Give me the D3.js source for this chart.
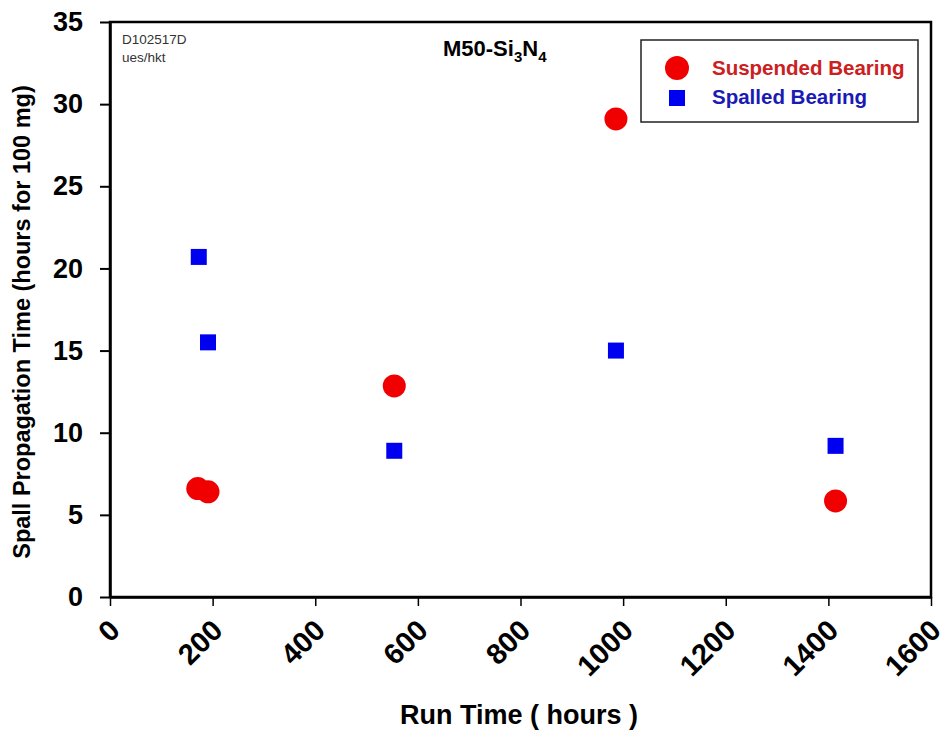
<!DOCTYPE html>
<html>
<head>
<meta charset="utf-8">
<script src="https://cdn.jsdelivr.net/npm/d3@7"></script>
<style>
  body { margin: 0; background: #fff; }
  text { font-family: "Liberation Sans", Arial, sans-serif; }
</style>
</head>
<body>
<div id="chart"></div>
<script>
// run time (hours) and spall propagation time (hours for 100 mg)
const suspendedX = [171, 191, 554, 986, 1414];
const suspendedY = [6.6, 6.4, 12.85, 29.1, 5.85];
const spalledX = [173, 191, 554, 986, 1414];
const spalledY = [20.7, 15.5, 8.9, 15.0, 9.2];
const xTicks = [0, 200, 400, 600, 800, 1000, 1200, 1400, 1600];
const yTicks = [0, 5, 10, 15, 20, 25, 30, 35];

const width = 943, height = 732;
const margin = { top: 22, right: 12, bottom: 135, left: 110 };

const svg = d3.select("#chart").append("svg")
  .attr("width", width)
  .attr("height", height);

const x = d3.scaleLinear().domain([0, 1600]).range([margin.left, width - margin.right]);
const y = d3.scaleLinear().domain([0, 35]).range([height - margin.bottom, margin.top]);

// frame
svg.append("rect")
  .attr("x", x(0)).attr("y", y(35))
  .attr("width", x(1600) - x(0)).attr("height", y(0) - y(35))
  .attr("fill", "none").attr("stroke", "#000").attr("stroke-width", 2.5);

const xAxis = svg.append("g")
  .attr("transform", `translate(0,${y(0)})`)
  .call(d3.axisBottom(x).tickValues(xTicks).tickSize(9).tickSizeOuter(0).tickFormat(d3.format("d")));
xAxis.select(".domain").attr("stroke-width", 2.5);
xAxis.selectAll(".tick line").attr("stroke-width", 1.5);
xAxis.selectAll(".tick text")
  .attr("font-size", 29).attr("font-weight", "bold").attr("fill", "#000")
  .attr("text-anchor", "end")
  .attr("x", 0).attr("y", 0).attr("dy", "0.35em")
  .attr("transform", "translate(4,28) rotate(-45)");

const yAxis = svg.append("g")
  .attr("transform", `translate(${x(0)},0)`)
  .call(d3.axisLeft(y).tickValues(yTicks).tickSize(10).tickSizeOuter(0).tickPadding(17));
yAxis.select(".domain").attr("stroke-width", 2.5);
yAxis.selectAll(".tick line").attr("stroke-width", 2);
yAxis.selectAll(".tick text")
  .attr("font-size", 27).attr("font-weight", "bold").attr("fill", "#000");

// axis titles
svg.append("text")
  .attr("x", 519).attr("y", 724)
  .attr("text-anchor", "middle")
  .attr("font-size", 27).attr("font-weight", "bold")
  .text("Run Time ( hours )");

svg.append("text")
  .attr("transform", "translate(30,322) rotate(-90)")
  .attr("text-anchor", "middle")
  .attr("font-size", 23.5).attr("font-weight", "bold")
  .text("Spall Propagation Time (hours for 100 mg)");

// annotations
svg.append("text").attr("x", 122).attr("y", 44)
  .attr("font-size", 13.5).attr("fill", "#333").text("D102517D");
svg.append("text").attr("x", 122).attr("y", 62)
  .attr("font-size", 13.5).attr("fill", "#333").text("ues/hkt");

const title = svg.append("text").attr("x", 443).attr("y", 56)
  .attr("font-size", 22).attr("font-weight", "bold");
title.append("tspan").text("M50-Si");
title.append("tspan").attr("font-size", 15).attr("dy", 6).text("3");
title.append("tspan").attr("dy", -6).text("N");
title.append("tspan").attr("font-size", 15).attr("dy", 6).text("4");

// points
svg.append("g").selectAll("circle")
  .data(suspendedX.map((d, i) => [d, suspendedY[i]]))
  .join("circle")
  .attr("cx", d => x(d[0])).attr("cy", d => y(d[1]))
  .attr("r", 11.5).attr("fill", "#f00000");

const sq = 16;
svg.append("g").selectAll("rect")
  .data(spalledX.map((d, i) => [d, spalledY[i]]))
  .join("rect")
  .attr("x", d => x(d[0]) - sq / 2).attr("y", d => y(d[1]) - sq / 2)
  .attr("width", sq).attr("height", sq).attr("fill", "#0000f0");

// legend
const lg = svg.append("g");
lg.append("rect").attr("x", 641).attr("y", 40).attr("width", 277).attr("height", 82)
  .attr("fill", "#fff").attr("stroke", "#222").attr("stroke-width", 1.5);
lg.append("circle").attr("cx", 677).attr("cy", 68).attr("r", 12).attr("fill", "#f00000");
lg.append("rect").attr("x", 677 - 8).attr("y", 98 - 8).attr("width", 16).attr("height", 16).attr("fill", "#0000f0");
lg.append("text").attr("x", 712).attr("y", 75)
  .attr("font-size", 20.5).attr("font-weight", "bold").attr("fill", "#cc2020")
  .text("Suspended Bearing");
lg.append("text").attr("x", 712).attr("y", 104)
  .attr("font-size", 20.5).attr("font-weight", "bold").attr("fill", "#1a1ab4")
  .text("Spalled Bearing");
</script>
</body>
</html>
